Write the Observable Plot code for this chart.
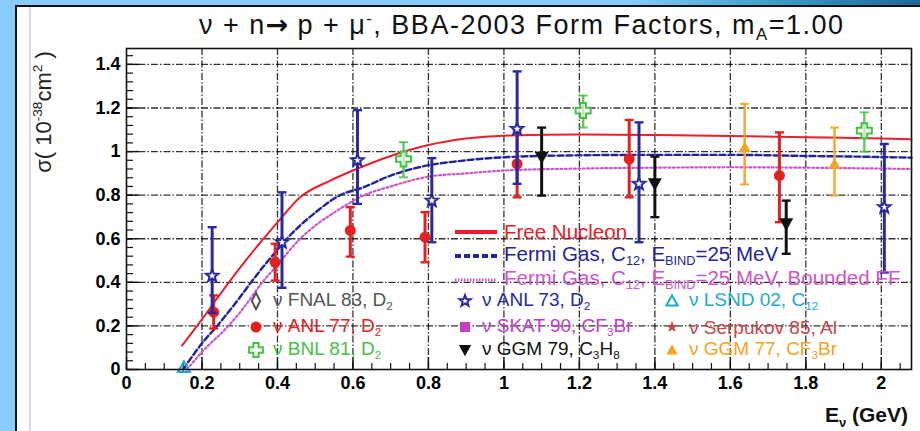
<!DOCTYPE html>
<html>
<head>
<meta charset="utf-8">
<script src="https://cdn.jsdelivr.net/npm/d3@7"></script>
<script src="https://cdn.jsdelivr.net/npm/@observablehq/plot@0.6"></script>
<style>
  html, body { margin: 0; padding: 0; }
  body { width: 920px; height: 431px; position: relative; overflow: hidden;
         background: #87cdf8; font-family: "Liberation Sans", Arial, sans-serif; }
  #topband { position: absolute; left: 0; top: 0; width: 920px; height: 5px;
             background: linear-gradient(to right, #87cdf8 0%, #87cdf8 68%, #3c9ec8 84%, #1a6699 100%); }
  #panel { position: absolute; left: 15px; top: 5px; width: 905px; height: 426px;
           background: #fff; border-left: 2px solid #111; border-top: 2px solid #111; box-sizing: border-box; }
  #rail { position: absolute; left: 29px; top: 7px; width: 2px; height: 424px; background: #d4d4ec; }
  #chart { position: absolute; left: 0; top: 0; }
  #chart svg text { font-family: "Liberation Sans", Arial, sans-serif; }
  .tick-label text { font-weight: bold; }
  .ov { position: absolute; white-space: nowrap; line-height: 1; }
  .ov sub { font-size: 0.62em; vertical-align: -0.35em; }
  .ov sup { font-size: 0.62em; vertical-align: 0.6em; }
  #title { left: 199px; top: 11px; font-size: 27px; letter-spacing: 1.5px; color: #111; }
  #title .arrow { font-family: "DejaVu Sans", sans-serif; font-weight: bold; font-size: 27px; letter-spacing: 0; }
  #ylabwrap { position: absolute; left: 43px; top: 112px; width: 0; height: 0; }
  #ylab { left: 0; top: 0; font-size: 22px; color: #222; transform: translate(-50%, -50%) rotate(-90deg); }
  #xlab { right: 12px; top: 404px; font-size: 21px; font-weight: bold; color: #111; }
  .leg { position: absolute; display: flex; align-items: center; white-space: nowrap; line-height: 1; }
  .leg svg { overflow: visible; }
</style>
</head>
<body>
<div id="topband"></div>
<div id="panel"></div>
<div id="rail"></div>
<div id="chart"></div>
<div id="title" class="ov">ν + n<span class="arrow">→</span> p + μ<sup>-</sup>, BBA-2003 Form Factors, m<sub>A</sub>=1.00</div>
<div id="ylabwrap"><div id="ylab" class="ov">σ( 10<sup>-38</sup>cm<sup>2</sup> )</div></div>
<div id="xlab" class="ov">E<sub>ν</sub> (GeV)</div>
<div id="legend"></div>
<script>
// Axis ticks
const xTicks = [0, 0.2, 0.4, 0.6, 0.8, 1, 1.2, 1.4, 1.6, 1.8, 2];
const yTicks = [0, 0.2, 0.4, 0.6, 0.8, 1, 1.2, 1.4];

// Theory curves: energy (GeV) and cross section (1e-38 cm^2)
const freeE     = [0.147, 0.2, 0.24, 0.3, 0.4, 0.46, 0.54, 0.6, 0.7, 0.8, 0.9, 1.0, 1.2, 1.4, 1.6, 1.8, 2.0, 2.08];
const freeSigma = [0.11, 0.23, 0.326, 0.465, 0.675, 0.79, 0.867, 0.913, 0.98, 1.03, 1.06, 1.073, 1.078, 1.076, 1.072, 1.066, 1.06, 1.056];

const fermiE     = [0.15, 0.2, 0.24, 0.3, 0.33, 0.4, 0.425, 0.5, 0.566, 0.628, 0.7, 0.78, 0.9, 1.0, 1.2, 1.4, 1.6, 1.8, 2.0, 2.08];
const fermiSigma = [0.0, 0.12, 0.2, 0.33, 0.4, 0.55, 0.6, 0.72, 0.8, 0.836, 0.89, 0.93, 0.96, 0.974, 0.983, 0.985, 0.985, 0.98, 0.975, 0.972];

const boundE     = [0.16, 0.2, 0.27, 0.3, 0.36, 0.4, 0.46, 0.5, 0.55, 0.63, 0.7, 0.8, 0.9, 1.0, 1.2, 1.4, 1.6, 1.8, 2.0, 2.08];
const boundSigma = [0.0, 0.08, 0.2, 0.26, 0.4, 0.48, 0.6, 0.66, 0.72, 0.8, 0.84, 0.885, 0.9, 0.913, 0.922, 0.926, 0.928, 0.926, 0.922, 0.92];

// Measurements: energy, cross section, error bar low / high
const anl73E     = [0.227, 0.412, 0.612, 0.809, 1.035, 1.358, 2.008];
const anl73Sigma = [0.43, 0.584, 0.96, 0.775, 1.104, 0.852, 0.745];
const anl73Lo    = [0.26, 0.375, 0.76, 0.584, 0.852, 0.584, 0.445];
const anl73Hi    = [0.653, 0.813, 1.19, 0.97, 1.368, 1.134, 1.035];

const anl77E     = [0.231, 0.394, 0.593, 0.791, 1.035, 1.332, 1.730];
const anl77Sigma = [0.263, 0.492, 0.638, 0.607, 0.944, 0.966, 0.89];
const anl77Lo    = [0.188, 0.408, 0.518, 0.492, 0.79, 0.79, 0.676];
const anl77Hi    = [0.34, 0.577, 0.745, 0.722, 1.10, 1.145, 1.088];

const ggm79E     = [1.10, 1.40, 1.748];
const ggm79Sigma = [0.974, 0.852, 0.668];
const ggm79Lo    = [0.798, 0.699, 0.531];
const ggm79Hi    = [1.11, 0.977, 0.775];

const ggm77E     = [1.638, 1.876];
const ggm77Sigma = [1.02, 0.944];
const ggm77Lo    = [0.849, 0.798];
const ggm77Hi    = [1.219, 1.11];

const bnl81E     = [0.734, 1.21, 1.955];
const bnl81Sigma = [0.966, 1.188, 1.096];
const bnl81Lo    = [0.882, 1.11, 1.0];
const bnl81Hi    = [1.043, 1.257, 1.18];

const lsnd02E     = [0.152];
const lsnd02Sigma = [0.01];

// Colours
const C = {
  free: "#e8202c", fermi: "#23239a", bound: "#cc55cc",
  anl73: "#2a2aa0", anl77: "#e42020", ggm79: "#111111", ggm77: "#f2a428",
  bnl81: "#48c048", lsnd: "#22aacc", fnal: "#555555", skat: "#c040c0", serp: "#c04a4a"
};

// Marker shapes
const rad = s => Math.sqrt(s / Math.PI);
const triDown = { draw(c, s) { const r = rad(s); c.moveTo(-r, -r * 0.8); c.lineTo(r, -r * 0.8); c.lineTo(0, r); c.closePath(); } };
const triUp = { draw(c, s) { const r = rad(s); c.moveTo(-r, r * 0.8); c.lineTo(r, r * 0.8); c.lineTo(0, -r); c.closePath(); } };
const openCross = { draw(c, s) { const r = rad(s), a = r * 0.38;
  c.moveTo(-a, -r); c.lineTo(a, -r); c.lineTo(a, -a); c.lineTo(r, -a); c.lineTo(r, a); c.lineTo(a, a);
  c.lineTo(a, r); c.lineTo(-a, r); c.lineTo(-a, a); c.lineTo(-r, a); c.lineTo(-r, -a); c.lineTo(-a, -a); c.closePath(); } };
const tallDiamond = { draw(c, s) { const r = rad(s); c.moveTo(0, -r * 1.2); c.lineTo(r * 0.6, 0); c.lineTo(0, r * 1.2); c.lineTo(-r * 0.6, 0); c.closePath(); } };
const star5 = { draw(c, s) { const r = rad(s), ri = r * 0.42;
  for (let i = 0; i < 10; i++) { const a = -Math.PI / 2 + i * Math.PI / 5, rr = i % 2 ? ri : r;
    const x = rr * Math.cos(a), y = rr * Math.sin(a); i ? c.lineTo(x, y) : c.moveTo(x, y); } c.closePath(); } };
const cap = { draw(c, s) { const r = rad(s); c.moveTo(-r, 0); c.lineTo(r, 0); } };

const rows = (E, S, lo, hi) => E.map((e, i) => ({E: e, s: S[i], lo: lo ? lo[i] : null, hi: hi ? hi[i] : null}));
const curve = (E, S) => E.map((e, i) => ({E: e, s: S[i]}));

const anl73 = rows(anl73E, anl73Sigma, anl73Lo, anl73Hi);
const anl77 = rows(anl77E, anl77Sigma, anl77Lo, anl77Hi);
const ggm79 = rows(ggm79E, ggm79Sigma, ggm79Lo, ggm79Hi);
const ggm77 = rows(ggm77E, ggm77Sigma, ggm77Lo, ggm77Hi);
const bnl81 = rows(bnl81E, bnl81Sigma, bnl81Lo, bnl81Hi);
const lsnd02 = rows(lsnd02E, lsnd02Sigma);

function errorMarks(data, color, width, opacity = 1) {
  return [
    Plot.ruleX(data, {x: "E", y1: "lo", y2: "hi", stroke: color, strokeWidth: width, strokeOpacity: opacity}),
    Plot.dot(data, {x: "E", y: "hi", symbol: cap, r: 4.5, stroke: color, strokeWidth: width * 0.8, strokeOpacity: opacity}),
    Plot.dot(data, {x: "E", y: "lo", symbol: cap, r: 4.5, stroke: color, strokeWidth: width * 0.8, strokeOpacity: opacity})
  ];
}

const W = 920, H = 431, ML = 126, MR = 9, MT = 48, MB = 62;
const FW = W - ML - MR, FH = H - MT - MB;
const xMinor = d3.range(0, 2.0751, 0.05);
const yMinor = d3.range(0, 1.4401, 0.04);
const gridStyle = {stroke: "#000", strokeOpacity: 0.8, strokeWidth: 1.3, strokeDasharray: "7,2,1.5,2"};

const chart = Plot.plot({
  width: W, height: H,
  marginLeft: ML, marginRight: MR, marginTop: MT, marginBottom: MB,
  style: {background: "transparent", fontFamily: "Liberation Sans, Arial, sans-serif"},
  x: {domain: [0, 2.08]},
  y: {domain: [0, 1.473]},
  marks: [
    Plot.gridX(xTicks.slice(1), gridStyle),
    Plot.gridY(yTicks.slice(1), gridStyle),
    // inward axis ticks
    Plot.ruleX(xTicks, {insetTop: FH - 12, stroke: "#111", strokeWidth: 1.4}),
    Plot.ruleX(xMinor, {insetTop: FH - 6, stroke: "#111", strokeWidth: 1.2}),
    Plot.ruleY(yTicks, {insetRight: FW - 13, stroke: "#111", strokeWidth: 1.4}),
    Plot.ruleY(yMinor, {insetRight: FW - 7, stroke: "#111", strokeWidth: 1.2}),
    Plot.axisX({ticks: xTicks, tickSize: 0, tickPadding: 7, tickFormat: d3.format("~g"), fontSize: 18, fontWeight: "bold", label: null, className: "tick-label"}),
    Plot.axisY({ticks: yTicks, tickSize: 0, tickPadding: 6, tickFormat: d3.format("~g"), fontSize: 18, fontWeight: "bold", label: null, className: "tick-label"}),
    // theory curves
    Plot.line(curve(boundE, boundSigma), {x: "E", y: "s", stroke: C.bound, strokeWidth: 2.2, strokeDasharray: "2,2.5", curve: "monotone-x"}),
    Plot.line(curve(fermiE, fermiSigma), {x: "E", y: "s", stroke: C.fermi, strokeWidth: 2.4, strokeDasharray: "6,3", curve: "monotone-x"}),
    Plot.line(curve(freeE, freeSigma), {x: "E", y: "s", stroke: C.free, strokeWidth: 2, curve: "monotone-x"}),
    // measurements
    ...errorMarks(bnl81, C.bnl81, 2.4, 0.85),
    Plot.dot(bnl81, {x: "E", y: "s", symbol: openCross, r: 7.5, stroke: C.bnl81, strokeWidth: 2, fill: "white", fillOpacity: 0.6}),
    ...errorMarks(ggm77, C.ggm77, 2.6, 0.9),
    Plot.dot(ggm77, {x: "E", y: "s", symbol: triUp, r: 6, fill: C.ggm77}),
    ...errorMarks(anl77, C.anl77, 3),
    Plot.dot(anl77, {x: "E", y: "s", r: 5.5, fill: C.anl77}),
    ...errorMarks(ggm79, C.ggm79, 3),
    Plot.dot(ggm79, {x: "E", y: "s", symbol: triDown, r: 7, fill: C.ggm79}),
    ...errorMarks(anl73, C.anl73, 3),
    Plot.dot(anl73, {x: "E", y: "s", symbol: star5, r: 6.5, stroke: C.anl73, strokeWidth: 2, fill: "white"}),
    Plot.dot(lsnd02, {x: "E", y: "s", symbol: triUp, r: 6, stroke: C.lsnd, strokeWidth: 2, fill: "none"}),
    Plot.frame({stroke: "#111", strokeWidth: 1.6})
  ]
});
document.getElementById("chart").append(chart);

// Legend
const legend = document.getElementById("legend");
function symbolSvg(type, size, fill, stroke) {
  const path = d3.symbol().type(type).size(size)();
  return `<svg width="18" height="18" viewBox="-9 -9 18 18"><path d="${path}" fill="${fill}" stroke="${stroke}" stroke-width="2"/></svg>`;
}
function lineSvg(color, dash, width) {
  return `<svg width="44" height="10"><line x1="1" x2="43" y1="5" y2="5" stroke="${color}" stroke-width="${width}" ${dash ? `stroke-dasharray="${dash}"` : ""}/></svg>`;
}
const lineEntries = [
  {x: 454, y: 232, svg: lineSvg(C.free, null, 4), color: C.free, html: "Free Nucleon"},
  {x: 454, y: 256, svg: lineSvg(C.fermi, "6,3", 4), color: C.fermi, html: "Fermi Gas, C<sub>12</sub>, E<sub>BIND</sub>=25 MeV"},
  {x: 454, y: 280, svg: lineSvg(C.bound, "1.5,1.5", 3), color: C.bound, html: "Fermi Gas, C<sub>12</sub>, E<sub>BIND</sub>=25 MeV, Bounded FF"}
];
const markerEntries = [
  {x: 247, y: 301, svg: symbolSvg(tallDiamond, 150, "none", C.fnal), color: C.fnal, html: "ν FNAL 83, D<sub>2</sub>"},
  {x: 247, y: 327, svg: symbolSvg(d3.symbolCircle, 95, C.anl77, "none"), color: C.anl77, html: "ν ANL 77, D<sub>2</sub>"},
  {x: 247, y: 350, svg: symbolSvg(openCross, 150, "none", C.bnl81), color: C.bnl81, html: "ν BNL 81, D<sub>2</sub>"},
  {x: 456, y: 301, svg: symbolSvg(star5, 110, "none", C.anl73), color: C.anl73, html: "ν ANL 73, D<sub>2</sub>"},
  {x: 456, y: 327, svg: symbolSvg(d3.symbolSquare, 100, C.skat, "none"), color: C.skat, html: "ν SKAT 90, CF<sub>3</sub>Br"},
  {x: 456, y: 350, svg: symbolSvg(triDown, 120, C.ggm79, "none"), color: C.ggm79, html: "ν GGM 79, C<sub>3</sub>H<sub>8</sub>"},
  {x: 663, y: 301, svg: symbolSvg(triUp, 100, "none", C.lsnd), color: C.lsnd, html: "ν LSND 02, C<sub>12</sub>"},
  {x: 663, y: 327, svg: symbolSvg(star5, 120, C.serp, "none"), color: C.serp, html: "ν Serpukov 85, Al"},
  {x: 663, y: 350, svg: symbolSvg(triUp, 100, C.ggm77, "none"), color: C.ggm77, html: "ν GGM 77, CF<sub>3</sub>Br"}
];
for (const e of lineEntries) {
  const d = document.createElement("div");
  d.className = "leg ov";
  d.style.left = e.x + "px"; d.style.top = (e.y - 10) + "px"; d.style.height = "20px";
  d.style.fontSize = "20.5px"; d.style.color = e.color;
  d.innerHTML = e.svg + `<span style="margin-left:6px">${e.html}</span>`;
  legend.append(d);
}
for (const e of markerEntries) {
  const d = document.createElement("div");
  d.className = "leg ov";
  d.style.left = e.x + "px"; d.style.top = (e.y - 10) + "px"; d.style.height = "20px";
  d.style.fontSize = "19px"; d.style.color = e.color;
  d.innerHTML = e.svg + `<span style="margin-left:8px">${e.html}</span>`;
  legend.append(d);
}
</script>
</body>
</html>
